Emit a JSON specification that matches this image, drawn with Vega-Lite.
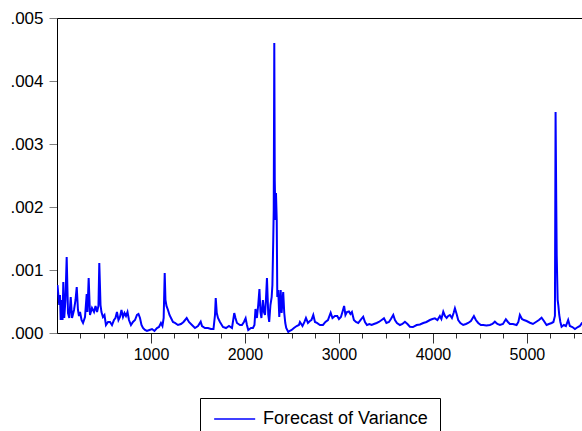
{
"$schema": "https://vega.github.io/schema/vega-lite/v6.json",
"width": 531, "height": 315,
"autosize": {"type": "none"},
"padding": {"left": 57, "top": 18, "right": 0, "bottom": 98},
"background": "white",
"config": {"view": {"stroke": "black", "strokeWidth": 1}, "font": "Liberation Sans"},
"data": {"values": [
{"t":5,"v":0.000762},{"t":24,"v":0.000444},{"t":32,"v":0.000603},{"t":39,"v":0.000206},{"t":50,"v":0.000524},{"t":59,"v":0.000206},{"t":67,"v":0.000810},{"t":77,"v":0.000238},{"t":90,"v":0.000524},{"t":103,"v":0.001206},
{"t":117,"v":0.000317},{"t":131,"v":0.000238},{"t":146,"v":0.000571},{"t":160,"v":0.000238},{"t":181,"v":0.000365},{"t":197,"v":0.000524},{"t":210,"v":0.000730},{"t":223,"v":0.000365},{"t":234,"v":0.000270},{"t":245,"v":0.000333},
{"t":261,"v":0.000206},{"t":277,"v":0.000159},{"t":298,"v":0.000254},{"t":316,"v":0.000619},{"t":324,"v":0.000333},{"t":337,"v":0.000873},{"t":351,"v":0.000286},{"t":372,"v":0.000397},{"t":394,"v":0.000333},{"t":410,"v":0.000429},
{"t":426,"v":0.000333},{"t":441,"v":0.000429},{"t":450,"v":0.001111},{"t":463,"v":0.000444},{"t":473,"v":0.000333},{"t":489,"v":0.000254},{"t":505,"v":0.000286},{"t":521,"v":0.000127},{"t":543,"v":0.000175},{"t":564,"v":0.000175},
{"t":585,"v":0.000127},{"t":606,"v":0.000206},{"t":622,"v":0.000238},{"t":638,"v":0.000333},{"t":654,"v":0.000206},{"t":670,"v":0.000254},{"t":686,"v":0.000365},{"t":702,"v":0.000254},{"t":718,"v":0.000317},{"t":734,"v":0.000270},
{"t":750,"v":0.000333},{"t":766,"v":0.000206},{"t":787,"v":0.000127},{"t":808,"v":0.000175},{"t":830,"v":0.000206},{"t":851,"v":0.000286},{"t":867,"v":0.000302},{"t":883,"v":0.000238},{"t":899,"v":0.000127},{"t":915,"v":0.000079},
{"t":936,"v":0.000048},{"t":957,"v":0.000032},{"t":984,"v":0.000048},{"t":1011,"v":0.000063},{"t":1037,"v":0.000032},{"t":1064,"v":0.000079},{"t":1085,"v":0.000095},{"t":1106,"v":0.000159},{"t":1122,"v":0.000111},{"t":1135,"v":0.000238},
{"t":1146,"v":0.000952},{"t":1154,"v":0.000524},{"t":1165,"v":0.000429},{"t":1181,"v":0.000365},{"t":1197,"v":0.000286},{"t":1213,"v":0.000238},{"t":1234,"v":0.000175},{"t":1255,"v":0.000159},{"t":1287,"v":0.000127},{"t":1319,"v":0.000143},
{"t":1346,"v":0.000175},{"t":1380,"v":0.000238},{"t":1404,"v":0.000175},{"t":1436,"v":0.000127},{"t":1468,"v":0.000079},{"t":1500,"v":0.000111},{"t":1529,"v":0.000179},{"t":1543,"v":0.000111},{"t":1574,"v":0.000079},{"t":1606,"v":0.000079},
{"t":1638,"v":0.000063},{"t":1665,"v":0.000063},{"t":1681,"v":0.000286},{"t":1689,"v":0.000556},{"t":1700,"v":0.000317},{"t":1713,"v":0.000238},{"t":1734,"v":0.000175},{"t":1766,"v":0.000095},{"t":1798,"v":0.000079},{"t":1830,"v":0.000111},
{"t":1862,"v":0.000079},{"t":1886,"v":0.000317},{"t":1899,"v":0.000238},{"t":1915,"v":0.000159},{"t":1947,"v":0.000127},{"t":1968,"v":0.000127},{"t":1989,"v":0.000175},{"t":2007,"v":0.000233},{"t":2021,"v":0.000127},{"t":2035,"v":0.000048},
{"t":2064,"v":0.000079},{"t":2085,"v":0.000079},{"t":2101,"v":0.000127},{"t":2112,"v":0.000381},{"t":2127,"v":0.000238},{"t":2141,"v":0.000444},{"t":2154,"v":0.000698},{"t":2165,"v":0.000333},{"t":2175,"v":0.000238},{"t":2191,"v":0.000524},
{"t":2202,"v":0.000333},{"t":2213,"v":0.000286},{"t":2223,"v":0.000524},{"t":2234,"v":0.000873},{"t":2248,"v":0.000286},{"t":2258,"v":0.000175},{"t":2271,"v":0.000444},{"t":2284,"v":0.000571},{"t":2292,"v":0.000762},{"t":2301,"v":0.001476},
{"t":2306,"v":0.001952},{"t":2312,"v":0.004603},{"t":2317,"v":0.002429},{"t":2324,"v":0.001794},{"t":2330,"v":0.002222},{"t":2338,"v":0.001794},{"t":2344,"v":0.000571},{"t":2354,"v":0.000683},{"t":2365,"v":0.000254},{"t":2380,"v":0.000683},
{"t":2390,"v":0.000317},{"t":2407,"v":0.000651},{"t":2418,"v":0.000317},{"t":2429,"v":0.000159},{"t":2439,"v":0.000079},{"t":2461,"v":0.000016},{"t":2473,"v":0.000032},{"t":2497,"v":0.000048},{"t":2521,"v":0.000079},{"t":2550,"v":0.000111},
{"t":2574,"v":0.000127},{"t":2585,"v":0.000175},{"t":2612,"v":0.000111},{"t":2633,"v":0.000175},{"t":2649,"v":0.000238},{"t":2670,"v":0.000159},{"t":2691,"v":0.000190},{"t":2707,"v":0.000206},{"t":2727,"v":0.000286},{"t":2745,"v":0.000175},
{"t":2766,"v":0.000159},{"t":2798,"v":0.000127},{"t":2830,"v":0.000127},{"t":2856,"v":0.000175},{"t":2883,"v":0.000206},{"t":2912,"v":0.000322},{"t":2931,"v":0.000238},{"t":2957,"v":0.000270},{"t":2982,"v":0.000270},{"t":3000,"v":0.000222},
{"t":3021,"v":0.000254},{"t":3037,"v":0.000333},{"t":3055,"v":0.000429},{"t":3069,"v":0.000286},{"t":3085,"v":0.000333},{"t":3106,"v":0.000341},{"t":3122,"v":0.000302},{"t":3138,"v":0.000333},{"t":3159,"v":0.000206},{"t":3181,"v":0.000175},
{"t":3205,"v":0.000159},{"t":3229,"v":0.000206},{"t":3258,"v":0.000259},{"t":3277,"v":0.000175},{"t":3298,"v":0.000127},{"t":3324,"v":0.000143},{"t":3348,"v":0.000127},{"t":3372,"v":0.000143},{"t":3401,"v":0.000159},{"t":3425,"v":0.000175},
{"t":3454,"v":0.000206},{"t":3479,"v":0.000233},{"t":3505,"v":0.000159},{"t":3532,"v":0.000175},{"t":3553,"v":0.000222},{"t":3578,"v":0.000286},{"t":3596,"v":0.000206},{"t":3617,"v":0.000159},{"t":3649,"v":0.000127},{"t":3675,"v":0.000143},
{"t":3702,"v":0.000179},{"t":3729,"v":0.000143},{"t":3755,"v":0.000100},{"t":3787,"v":0.000095},{"t":3827,"v":0.000127},{"t":3862,"v":0.000135},{"t":3897,"v":0.000159},{"t":3931,"v":0.000175},{"t":3968,"v":0.000206},{"t":3995,"v":0.000222},
{"t":4021,"v":0.000233},{"t":4048,"v":0.000206},{"t":4074,"v":0.000270},{"t":4090,"v":0.000222},{"t":4110,"v":0.000338},{"t":4128,"v":0.000270},{"t":4146,"v":0.000238},{"t":4163,"v":0.000270},{"t":4181,"v":0.000286},{"t":4202,"v":0.000238},
{"t":4220,"v":0.000317},{"t":4234,"v":0.000392},{"t":4252,"v":0.000302},{"t":4269,"v":0.000206},{"t":4292,"v":0.000159},{"t":4322,"v":0.000127},{"t":4351,"v":0.000143},{"t":4375,"v":0.000159},{"t":4404,"v":0.000190},{"t":4436,"v":0.000270},
{"t":4457,"v":0.000206},{"t":4482,"v":0.000159},{"t":4510,"v":0.000127},{"t":4535,"v":0.000127},{"t":4569,"v":0.000119},{"t":4606,"v":0.000127},{"t":4633,"v":0.000143},{"t":4659,"v":0.000179},{"t":4686,"v":0.000143},{"t":4713,"v":0.000127},
{"t":4745,"v":0.000143},{"t":4776,"v":0.000217},{"t":4798,"v":0.000175},{"t":4819,"v":0.000143},{"t":4851,"v":0.000143},{"t":4890,"v":0.000127},{"t":4909,"v":0.000175},{"t":4925,"v":0.000286},{"t":4947,"v":0.000222},{"t":4968,"v":0.000206},
{"t":4997,"v":0.000190},{"t":5032,"v":0.000163},{"t":5064,"v":0.000143},{"t":5096,"v":0.000175},{"t":5128,"v":0.000206},{"t":5156,"v":0.000243},{"t":5181,"v":0.000190},{"t":5209,"v":0.000127},{"t":5234,"v":0.000143},{"t":5263,"v":0.000159},
{"t":5282,"v":0.000175},{"t":5298,"v":0.000270},{"t":5305,"v":0.003508},{"t":5312,"v":0.002111},{"t":5317,"v":0.001238},{"t":5327,"v":0.000524},{"t":5335,"v":0.000429},{"t":5344,"v":0.000286},{"t":5356,"v":0.000175},{"t":5369,"v":0.000100},
{"t":5393,"v":0.000127},{"t":5415,"v":0.000111},{"t":5439,"v":0.000206},{"t":5457,"v":0.000111},{"t":5484,"v":0.000095},{"t":5511,"v":0.000063},{"t":5542,"v":0.000095},{"t":5564,"v":0.000111},{"t":5585,"v":0.000159},{"t":5617,"v":0.000175}
]},
"mark": {"type": "line", "strokeWidth": 2, "clip": true},
"encoding": {
 "x": {"field": "t", "type": "quantitative",
  "scale": {"domain": [0, 5650], "nice": false, "zero": false},
  "axis": {"title": null, "grid": false, "format": "d",
   "values": [250,500,750,1000,1250,1500,1750,2000,2250,2500,2750,3000,3250,3500,3750,4000,4250,4500,4750,5000,5250,5500],
   "labelExpr": "datum.value % 1000 === 0 ? datum.label : ''",
   "tickSize": {"condition": {"test": "datum.value % 1000 === 0", "value": 10}, "value": 5},
   "tickColor": "#333333", "domainColor": "black", "labelColor": "black",
   "labelFontSize": 16, "labelPadding": 3, "labelOverlap": false, "labelFlush": false}},
 "y": {"field": "v", "type": "quantitative",
  "scale": {"domain": [0, 0.005], "nice": false},
  "axis": {"title": null, "grid": false,
   "values": [0, 0.001, 0.002, 0.003, 0.004, 0.005],
   "labelExpr": "substring(format(datum.value, '.3f'), 1)",
   "tickSize": 8, "tickColor": "#808080", "domainColor": "black", "labelColor": "black",
   "labelFontSize": 17, "labelPadding": 6, "labelOverlap": false, "labelFlush": false}},
 "color": {"datum": "Forecast of Variance", "type": "nominal",
  "scale": {"range": ["#0000ff"]},
  "legend": {"title": null, "orient": "none", "legendX": 143, "legendY": 380,
   "symbolType": "M-1,0H5", "symbolSize": 187, "symbolStrokeWidth": 1.5,
   "labelFontSize": 18, "labelOffset": 33, "labelLimit": 400, "padding": 12,
   "strokeColor": "black", "fillColor": "white", "labelColor": "black", "cornerRadius": 0}}
}
}
